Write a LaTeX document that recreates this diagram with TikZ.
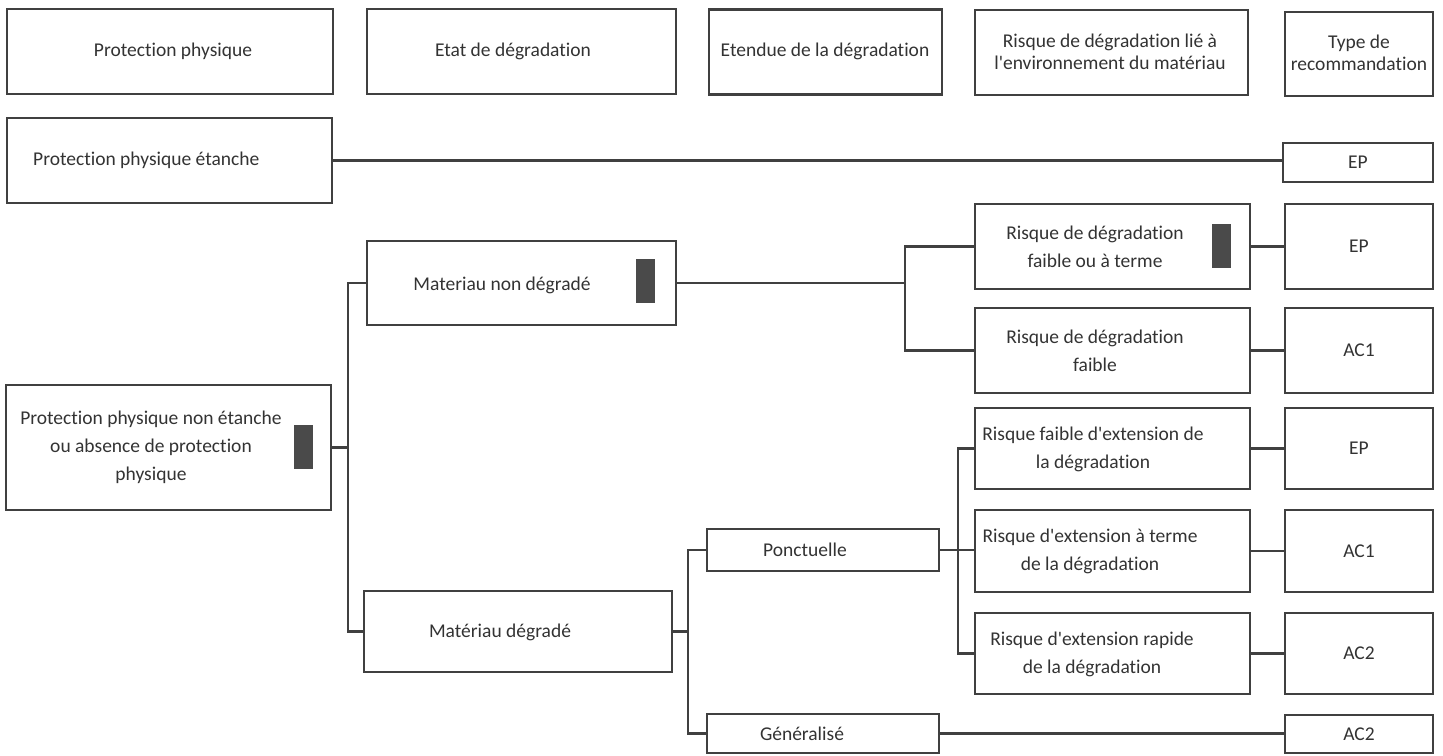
\documentclass[tikz,border=0pt]{standalone}
\usepackage{fontspec}
\setmainfont{Carlito}[Ligatures={TeXOff,NoCommon}]
\definecolor{ink}{HTML}{333333}
\definecolor{edge}{HTML}{404040}
\definecolor{bar}{HTML}{4A4A4A}
\begin{document}
\begin{tikzpicture}[x=1pt,y=-1pt,
  box/.style={draw=edge,line width=2.6pt,fill=none,inner sep=0pt,text=ink,
    font=\fontsize{19.5}{28}\selectfont},
  txt/.style={text=ink,inner sep=0pt,align=center,font=\fontsize{19.5}{28}\selectfont},
  htxt/.style={text=ink,inner sep=0pt,align=center,font=\fontsize{19.5}{22}\selectfont},
  conn/.style={draw=edge,line width=2.4pt},
  darkbar/.style={fill=bar,draw=none,minimum width=19pt,minimum height=44pt,inner sep=0pt}]
\useasboundingbox (0,0) rectangle (1443,755);
% header row
\node[box,minimum width=326pt,minimum height=85pt] (h1) at (170,51.5) {};
\node[box,minimum width=309pt,minimum height=85pt] (h2) at (521.5,51.5) {};
\node[box,minimum width=233pt,minimum height=85pt] (h3) at (825.5,52) {};
\node[box,minimum width=273pt,minimum height=85pt] (h4) at (1111.5,52.5) {};
\node[box,minimum width=148pt,minimum height=84pt] (h5) at (1359,54) {};
\node[htxt] (h1t) at (173,51) {Protection physique};
\node[htxt] (h2t) at (513,51) {Etat de dégradation};
\node[htxt] (h3t) at (825,51) {Etendue de la dégradation};
\node[htxt] (h4t) at (1110,52) {Risque de dégradation lié à\\l'environnement du matériau};
\node[htxt] (h5t) at (1359,53) {Type de\\recommandation};
% protection etanche
\node[box,minimum width=325pt,minimum height=85pt] (pe) at (169.5,160.5) {};
\node[txt,anchor=west] (pet) at (33,160.5) {Protection physique étanche};
\node[box,minimum width=150pt,minimum height=39pt] (ep0) at (1358,162.5) {EP};
% non etanche branch
\node[box,minimum width=325pt,minimum height=125pt] (pnd) at (168.5,447.5) {};
\node[txt] (pndt) at (151,447) {Protection physique non étanche\\ou absence de protection\\physique};
\node[darkbar] (bar1) at (303,446.5) {};
\node[box,minimum width=309pt,minimum height=84pt] (mnd) at (521.5,283) {};
\node[txt] (mndt) at (502,285) {Materiau non dégradé};
\node[darkbar] (bar2) at (645.5,280.5) {};
\node[box,minimum width=308pt,minimum height=81pt] (md) at (518,631.5) {};
\node[txt] (mdt) at (500,632) {Matériau dégradé};
% risk boxes (non degrade)
\node[box,minimum width=275pt,minimum height=85pt] (r1) at (1112.5,246.5) {};
\node[txt] (r1t) at (1095,247) {Risque de dégradation\\faible ou à terme};
\node[darkbar] (bar3) at (1221.5,246) {};
\node[box,minimum width=148pt,minimum height=85pt] (ep1) at (1359,246.5) {EP};
\node[box,minimum width=275pt,minimum height=85pt] (r2) at (1112.5,350.5) {};
\node[txt] (r2t) at (1095,351) {Risque de dégradation\\faible};
\node[box,minimum width=148pt,minimum height=85pt] (ac1a) at (1359,350.5) {AC1};
% degrade
\node[box,minimum width=232pt,minimum height=42pt] (pon) at (823,550) {};
\node[txt] (pont) at (805,550) {Ponctuelle};
\node[box,minimum width=232pt,minimum height=39pt] (gen) at (823,733.5) {};
\node[txt] (gent) at (802,734) {Généralisé};
\node[box,minimum width=275pt,minimum height=81pt] (r3) at (1112.5,448.5) {};
\node[txt] (r3t) at (1093,449) {Risque faible d'extension de\\la dégradation};
\node[box,minimum width=148pt,minimum height=81pt] (ep2) at (1359,448.5) {EP};
\node[box,minimum width=275pt,minimum height=82pt] (r4) at (1112.5,551) {};
\node[txt] (r4t) at (1090,551) {Risque d'extension à terme\\de la dégradation};
\node[box,minimum width=148pt,minimum height=82pt] (ac1b) at (1359,551) {AC1};
\node[box,minimum width=275pt,minimum height=81pt] (r5) at (1112.5,653.5) {};
\node[txt] (r5t) at (1092,654) {Risque d'extension rapide\\de la dégradation};
\node[box,minimum width=148pt,minimum height=81pt] (ac2a) at (1359,653.5) {AC2};
\node[box,minimum width=148pt,minimum height=38pt] (ac2b) at (1359,734) {AC2};
% junctions
\coordinate (j1) at (348,447.5);
\coordinate (j2) at (905,283);
\coordinate (j3) at (688,631.5);
\coordinate (j4) at (958,550);
% connectors
\draw[conn] (pe.east) -- (pe.east -| ep0.west);
\draw[conn] (pnd.east) -- (j1);
\draw[conn] (mnd.west) -| (j1) |- (md.west);
\draw[conn] (mnd.east) -- (j2);
\draw[conn] (r1.west) -| (j2) |- (r2.west);
\draw[conn] (r1.east) -- (ep1.west);
\draw[conn] (r2.east) -- (ac1a.west);
\draw[conn] (md.east) -- (j3);
\draw[conn] (pon.west) -| (j3) |- (gen.west);
\draw[conn] (pon.east) -- (j4);
\draw[conn] (r3.west) -| (j4) |- (r5.west);
\draw[conn] (j4) -- (j4 -| r4.west);
\draw[conn] (r3.east) -- (ep2.west);
\draw[conn] (r4.east) -- (ac1b.west);
\draw[conn] (r5.east) -- (ac2a.west);
\draw[conn] (gen.east) -- (gen.east -| ac2b.west);
\end{tikzpicture}
\end{document}
